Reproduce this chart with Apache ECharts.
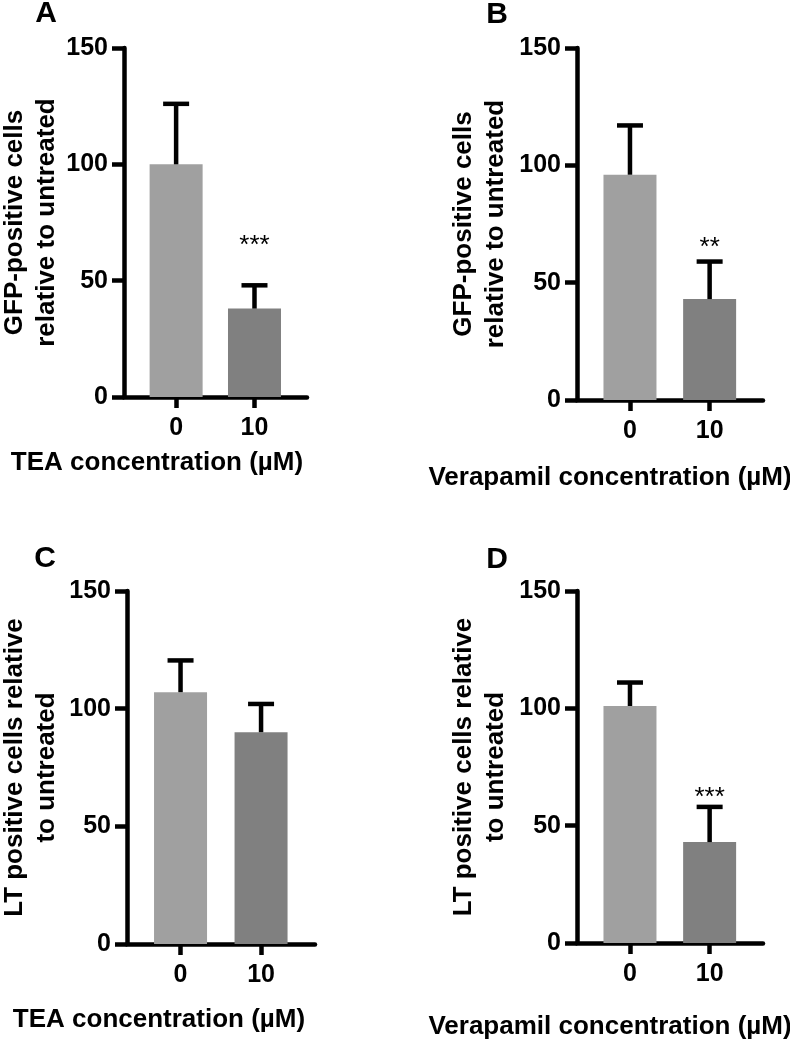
<!DOCTYPE html>
<html>
<head>
<meta charset="utf-8">
<script src="https://cdn.jsdelivr.net/npm/echarts@6/dist/echarts.min.js"></script>
<style>html,body{margin:0;padding:0;background:#fff}#c{width:790px;height:1040px}</style>
</head>
<body>
<div id="c"></div>
<script>
// ---- data ----
const categories = ['0', '10'];
const panelLetters = ['A', 'B', 'C', 'D'];
const yTitles = [
  'GFP-positive cells\nrelative to untreated',
  'GFP-positive cells\nrelative to untreated',
  'LT positive cells relative\nto untreated',
  'LT positive cells relative\nto untreated'
];
const xTitles = [
  'TEA concentration (µM)',
  'Verapamil concentration (µM)',
  'TEA concentration (µM)',
  'Verapamil concentration (µM)'
];
const yMin = 0, yMax = 150, yStep = 50;

const meansA = [100, 38];
const sdA = [26, 10];
const starsA = ['', '***'];
const starValA = [null, 67.5];

const meansB = [96, 43];
const sdB = [21, 16];
const starsB = ['', '**'];
const starValB = [null, 67.5];

const meansC = [107, 90];
const sdC = [13.5, 12];
const starsC = ['', ''];
const starValC = [null, null];

const meansD = [101, 43];
const sdD = [10, 15];
const starsD = ['', '***'];
const starValD = [null, 64.5];

// ---- layout / style ----
const FONT = '"Liberation Sans", Arial, sans-serif';
const barColors = ['#a0a0a0', '#808080'];
const grids = [
  { left: 124, top: 48, width: 183, height: 349, outerBoundsMode: 'none', containLabel: false },
  { left: 577, top: 48, width: 186, height: 352, outerBoundsMode: 'none', containLabel: false },
  { left: 127, top: 591, width: 188, height: 353, outerBoundsMode: 'none', containLabel: false },
  { left: 577, top: 591, width: 186, height: 352, outerBoundsMode: 'none', containLabel: false }
];
const nameGaps = [61, 65, 64, 65];
const letterPos = [[46, 14], [497, 15], [45, 559], [497, 560]];
const xTitlePos = [[157, 463], [610, 478], [159, 1020], [610, 1027]];

const panels = [
  { means: meansA, sd: sdA, stars: starsA, starVal: starValA },
  { means: meansB, sd: sdB, stars: starsB, starVal: starValB },
  { means: meansC, sd: sdC, stars: starsC, starVal: starValC },
  { means: meansD, sd: sdD, stars: starsD, starVal: starValD }
];

const LW = 4.5;
const axisLineStyle = { color: '#000', width: LW };
const xPositions = categories.map((c, j) => j + 1);

const xAxes = [], yAxes = [], series = [];
panels.forEach((p, i) => {
  xAxes.push({
    gridIndex: i, type: 'value', min: 0.335, max: 2.67,
    axisLine: { show: true, onZero: false, lineStyle: axisLineStyle },
    axisTick: { show: true, customValues: xPositions, length: 11, lineStyle: axisLineStyle },
    axisLabel: {
      customValues: xPositions,
      formatter: v => categories[Math.round(v) - 1],
      fontSize: 25, fontWeight: 'bold', color: '#000', margin: 19, fontFamily: FONT
    },
    splitLine: { show: false }
  });
  yAxes.push({
    gridIndex: i, type: 'value', min: yMin, max: yMax, interval: yStep,
    axisLine: { show: true, lineStyle: axisLineStyle },
    axisTick: { show: true, length: 12, lineStyle: axisLineStyle },
    axisLabel: { fontSize: 25, fontWeight: 'bold', color: '#000', margin: 16, fontFamily: FONT },
    splitLine: { show: false },
    name: yTitles[i], nameLocation: 'middle', nameRotate: 90, nameGap: nameGaps[i],
    nameTextStyle: { fontSize: 26, fontWeight: 'bold', lineHeight: 32, color: '#000', fontFamily: FONT }
  });
  series.push({
    type: 'bar', xAxisIndex: i, yAxisIndex: i, barWidth: 53,
    data: categories.map((c, j) => ({ value: [j + 1, p.means[j]], itemStyle: { color: barColors[j] } }))
  });
  series.push({
    type: 'custom', xAxisIndex: i, yAxisIndex: i, z: 3,
    data: categories.map((c, j) => [j + 1, p.means[j], p.means[j] + p.sd[j]]),
    renderItem: (params, api) => {
      const a = api.coord([api.value(0), api.value(1)]);
      const b = api.coord([api.value(0), api.value(2)]);
      const st = { stroke: '#000', lineWidth: LW };
      return {
        type: 'group', children: [
          { type: 'line', shape: { x1: a[0], y1: a[1], x2: b[0], y2: b[1] }, style: st },
          { type: 'line', shape: { x1: b[0] - 13, y1: b[1], x2: b[0] + 13, y2: b[1] }, style: st }
        ]
      };
    }
  });
  series.push({
    type: 'custom', xAxisIndex: i, yAxisIndex: i, z: 4,
    data: categories.map((c, j) => [j + 1, p.starVal[j] == null ? 0 : p.starVal[j], p.stars[j]]),
    renderItem: (params, api) => {
      const txt = p.stars[params.dataIndex];
      if (!txt) return null;
      const pt = api.coord([api.value(0), api.value(1)]);
      return {
        type: 'text', x: pt[0], y: pt[1] + 6,
        style: { text: txt, fill: '#000', font: '26px ' + FONT, align: 'center', verticalAlign: 'middle' }
      };
    }
  });
});

const graphic = [];
panelLetters.forEach((L, i) => {
  graphic.push({ type: 'text', x: letterPos[i][0], y: letterPos[i][1],
    style: { text: L, fill: '#000', font: 'bold 30px ' + FONT, align: 'center', verticalAlign: 'middle' } });
  graphic.push({ type: 'text', x: xTitlePos[i][0], y: xTitlePos[i][1],
    style: { text: xTitles[i], fill: '#000', font: 'bold 26px ' + FONT, align: 'center', verticalAlign: 'middle' } });
});

const chart = echarts.init(document.getElementById('c'), null, { renderer: 'canvas' });
chart.setOption({
  animation: false,
  backgroundColor: '#fff',
  grid: grids,
  xAxis: xAxes,
  yAxis: yAxes,
  series: series,
  graphic: graphic
});
</script>
</body>
</html>
